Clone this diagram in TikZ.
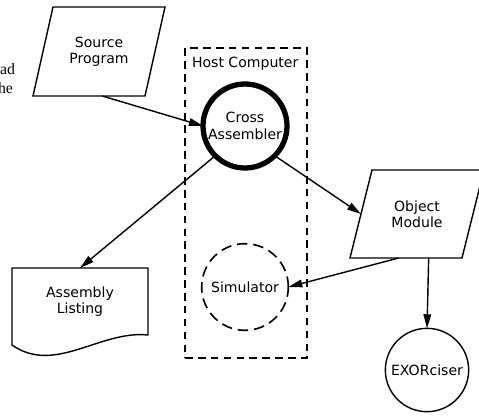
\documentclass[tikz,border=0pt]{standalone}
\usepackage{fontspec}
\setmainfont{DejaVu Sans}
\newfontfamily\pagefont{Liberation Serif}
\usetikzlibrary{arrows.meta}

\begin{document}
\begin{tikzpicture}[x=0.03cm,y=-0.03cm,every node/.style={font=\fontsize{12}{14}\selectfont, align=center, inner sep=0pt, outer sep=0pt},
  outline/.style={line width=1.2pt},
  flow/.style={line width=1.2pt, -{Triangle[length=12pt,width=6.5pt]}}]
\useasboundingbox (0,0) rectangle (479,417);
% words of the page text that run into the picture
\node[anchor=base east,font=\pagefont\fontsize{13.5}{16}\selectfont] (pagea) at (15,74) {ad};
\node[anchor=base east,font=\pagefont\fontsize{13.5}{16}\selectfont] (pageb) at (13,93) {he};
% host computer box
\node[draw,dash pattern=on 6.5pt off 4.5pt,line width=1.2pt,minimum width=3.66cm,minimum height=9.3cm] (host) at (246,203) {};
\node[anchor=base west] (hostlabel) at (192,67) {Host Computer};
% nodes
\node[minimum width=3.36cm,minimum height=2.67cm] (src) at (99,51.5) {Source\\Program};
\draw[outline] ([xshift=0.3cm]src.north west) -- ([xshift=0.3cm]src.north east) -- ([xshift=-0.3cm]src.south east) -- ([xshift=-0.3cm]src.south west) -- cycle;
\node[minimum width=3.36cm,minimum height=2.64cm] (obj) at (417,214) {Object\\Module};
\draw[outline] ([xshift=0.33cm]obj.north west) -- ([xshift=0.33cm]obj.north east) -- ([xshift=-0.33cm]obj.south east) -- ([xshift=-0.33cm]obj.south west) -- cycle;
\node[circle,draw,line width=4.5pt,minimum size=2.52cm] (xasm) at (245,126) {Cross\\Assembler};
\node[circle,draw,dash pattern=on 9pt off 5pt,line width=1.4pt,minimum size=2.6cm] (sim) at (245,287) {Simulator};
\node[circle,draw,line width=1.2pt,minimum size=2.5cm] (exor) at (427,370) {EXORciser};
\node[minimum width=4.08cm,minimum height=2.01cm] (lst) at (80,301.5) {Assembly\\Listing};
\draw[outline] (lst.north west) -- (lst.north east) -- (lst.south east) .. controls +(-48,-5) and +(43,30) .. ([yshift=-0.3cm]lst.south west) -- cycle;
% connectors
\draw[flow] ([xshift=0.1cm]src.south) -- (xasm.west);
\draw[flow] (xasm.-45) -- (obj.west);
\draw[flow] (xasm.225) -- (lst.north);
\draw[flow] ([xshift=-0.55cm]obj.south) -- (sim.east);
\draw[flow] ([xshift=0.35cm]obj.south) -- (exor.north);
\end{tikzpicture}
\end{document}
